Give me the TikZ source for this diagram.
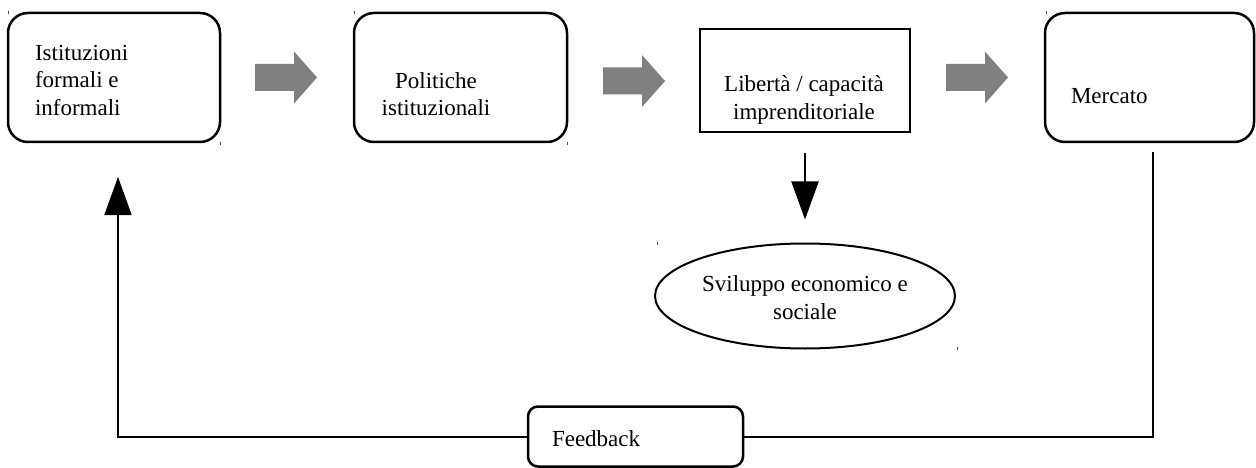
\documentclass[tikz,border=0pt]{standalone}
\usepackage{fontspec}
\setmainfont{Liberation Serif}
\usetikzlibrary{arrows.meta,shapes.geometric}
\definecolor{arrowgray}{RGB}{128,128,128}
\tikzset{
  every node/.style={font=\fontsize{23}{27.5}\selectfont, inner sep=0pt, outer sep=0pt},
  rbox/.style={draw, line width=2.5pt, rounded corners=20pt},
  sbox/.style={draw, line width=2pt},
  fbox/.style={draw, line width=2.5pt, rounded corners=10pt},
  oval/.style={draw, ellipse, line width=2pt},
  txt/.style={align=center},
  conn/.style={draw, line width=2pt},
  bigtip/.style={-{Triangle[length=38pt,width=27pt]}},
  ticks/.style={draw=black!70, line width=0.8pt},
  pics/blockarrow/.style={code={
    \fill[arrowgray] (0,-13.5) -- (39,-13.5) -- (39,-26) -- (62,0) -- (39,26) -- (39,13.5) -- (0,13.5) -- cycle;
  }}
}
\begin{document}
\begin{tikzpicture}[x=1pt,y=-1pt]
\useasboundingbox (0,0) rectangle (1256,468);

% boxes
\node[rbox, minimum width=212pt, minimum height=129pt] (inst) at (114,77.5) {};
\node[anchor=west, align=left] (insttxt) at (35,80) {Istituzioni\\formali e\\informali};

\node[rbox, minimum width=213pt, minimum height=129pt] (pol) at (460.5,77.5) {};
\node[txt] (poltxt) at (436,94) {Politiche\\istituzionali};

\node[sbox, minimum width=210pt, minimum height=103pt] (lib) at (805,80.5) {};
\node[txt] (libtxt) at (804,100) {Libertà / capacità\\imprenditoriale};

\node[rbox, minimum width=209pt, minimum height=129pt] (merc) at (1149.5,77.5) {};
\node[anchor=west] (merctxt) at (1071,96) {Mercato};

\node[oval, minimum width=300pt, minimum height=105pt] (svil) at (805,296) {};
\node[txt] (sviltxt) at (805,297.5) {Sviluppo economico e\\sociale};

\node[fbox, minimum width=215pt, minimum height=60pt] (fb) at (635.5,436.5) {};
\node[anchor=west] (fbtxt) at (552,439) {Feedback};

% block arrows
\pic at (255,77.5) {blockarrow};
\pic at (603,81) {blockarrow};
\pic at (946,77.5) {blockarrow};

% connectors
\draw[conn, bigtip, shorten <=21pt, shorten >=24pt] (lib.south) -- (svil.north);
\draw[conn, shorten <=10pt] ([xshift=3.5pt]merc.south) |- (fb.east);
\draw[conn, bigtip, shorten >=35pt] (fb.west) -| ([xshift=4pt]inst.south);

% small corner marks
\draw[ticks] (8,11) -- (8,14);
\draw[ticks] (220,142) -- (220,145);
\draw[ticks] (354,11) -- (354,14);
\draw[ticks] (567,142) -- (567,145);
\draw[ticks] (657,242) -- (657,245);
\draw[ticks] (957,347) -- (957,350);
\draw[ticks] (1046,11) -- (1046,14);
\end{tikzpicture}
\end{document}
